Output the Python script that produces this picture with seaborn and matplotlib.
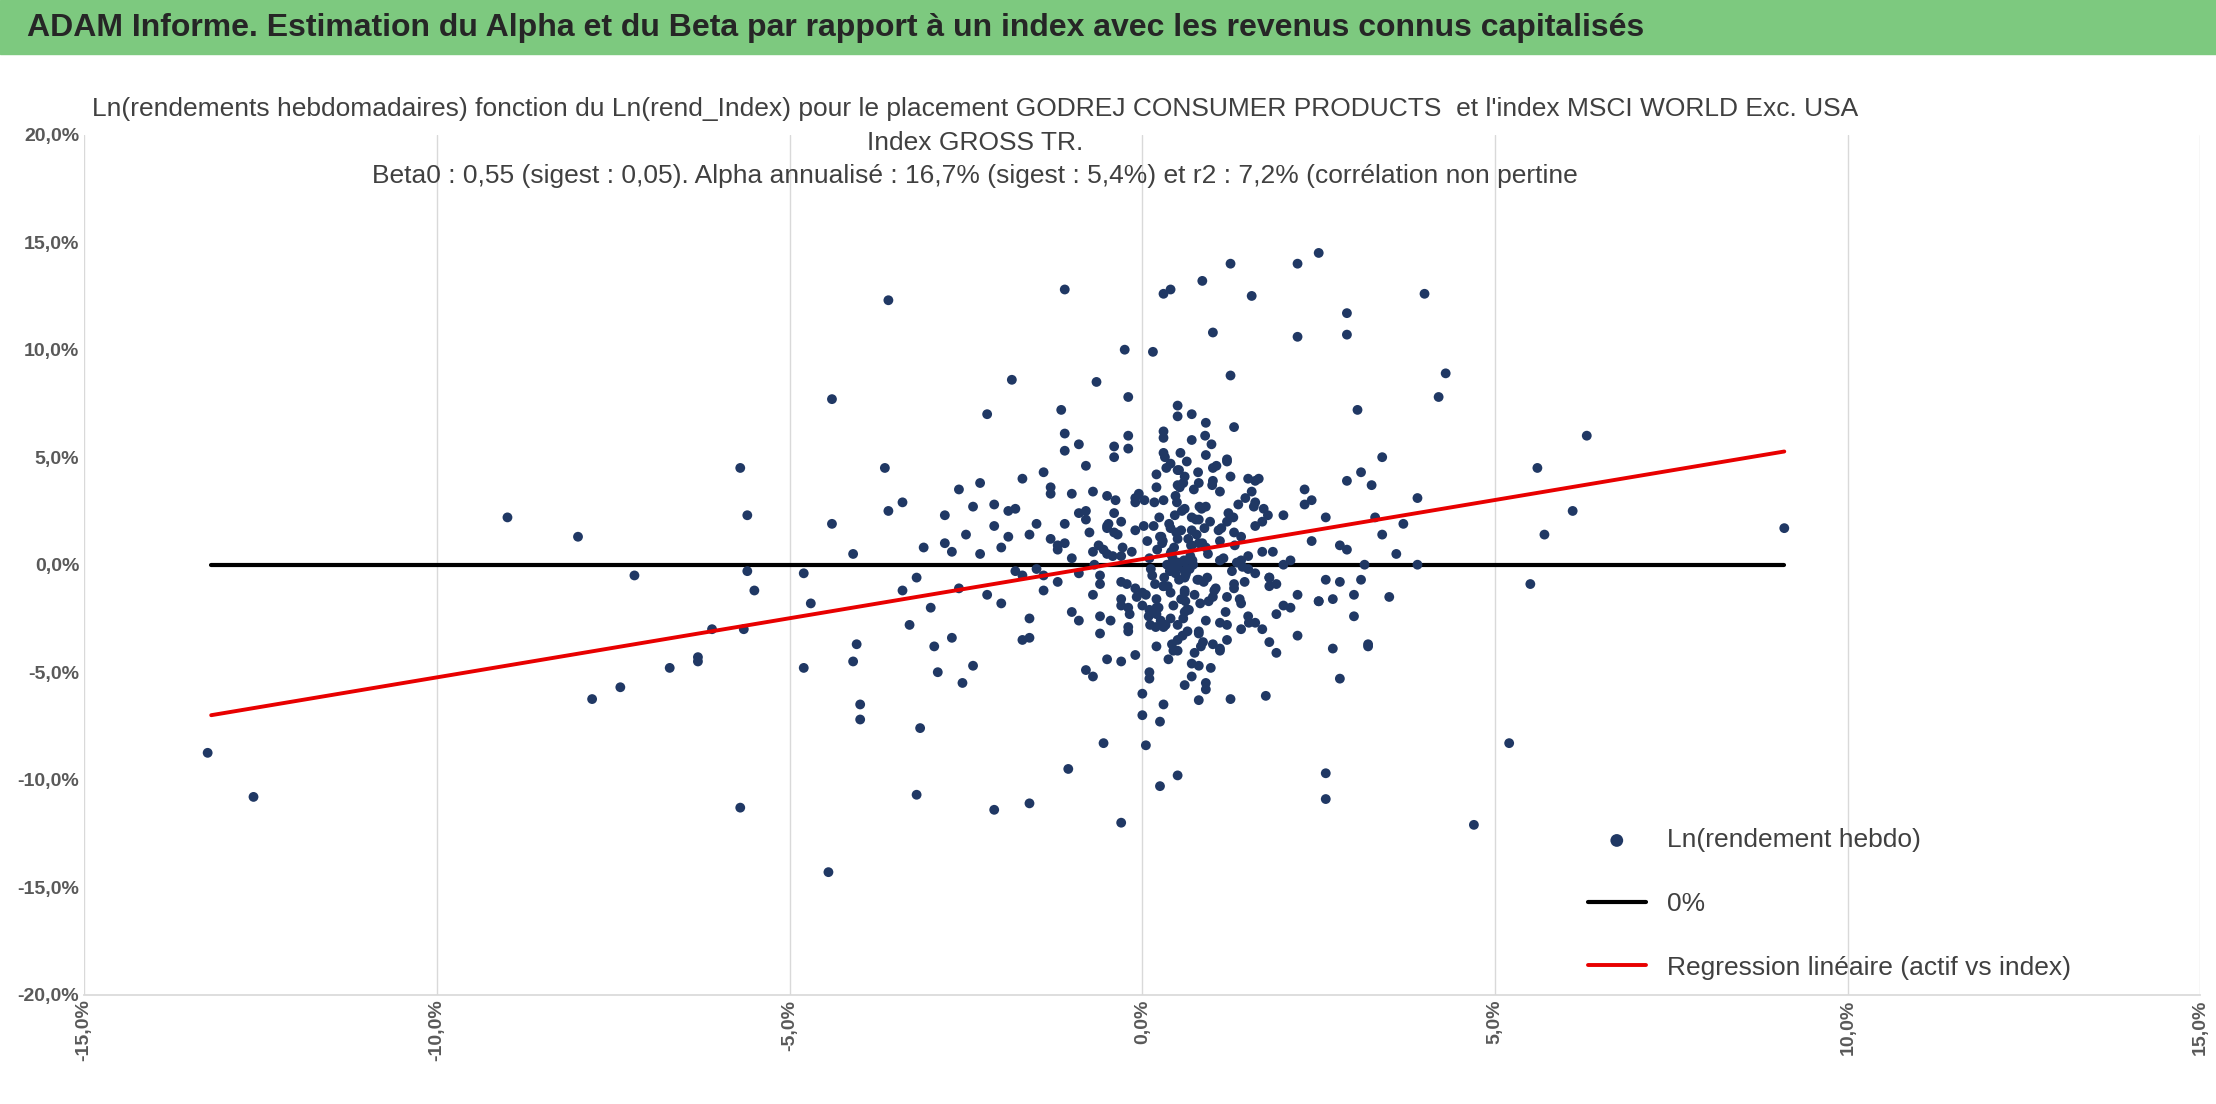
import matplotlib
matplotlib.use("Agg")
import matplotlib.pyplot as plt
import seaborn as sns
import numpy as np
import pandas as pd

# ---- data (percent) ----
outlier_x = [-13.25,-12.6,-9.0,-8.0,-7.8,-7.4,-7.2,-6.7,-6.3,-6.3,-6.1,-5.7,-5.6,-5.65,-5.7,-5.6,-5.5,
             -4.45,-4.4,-3.6,-1.1,0.3,0.4,0.85,1.25,2.2,2.5,4.0,1.55,2.9,2.9,2.2,4.3,4.2,5.6,6.3,6.1,5.7,
             5.5,5.2,4.7,9.1,3.9,3.9,2.6,2.6,0.25,0.5,-0.3,-1.05,-2.1,-1.6,-3.2,-4.1,-4.0,-4.0,-4.8,-4.7,
             -4.8,-4.1,-4.4,-3.65,-3.4,-2.2,-1.85,-1.15,-0.25,0.15,1.0,-0.65,1.25,3.05,3.4,3.25,3.0,3.1,
             3.15,3.2,2.8,1.75,1.25,0.25,0.8,-0.55,0.05,-3.15,-4.05,-2.95,-2.4,-2.55]
outlier_y = [-8.75,-10.8,2.2,1.3,-6.25,-5.7,-0.5,-4.8,-4.3,-4.5,-3.0,4.5,2.3,-3.0,-11.3,-0.3,-1.2,
             -14.3,7.7,12.3,12.8,12.6,12.8,13.2,14.0,14.0,14.5,12.6,12.5,11.7,10.7,10.6,8.9,7.8,4.5,6.0,2.5,1.4,
             -0.9,-8.3,-12.1,1.7,0.0,3.1,-10.9,-9.7,-10.3,-9.8,-12.0,-9.5,-11.4,-11.1,-10.7,-4.5,-6.5,-7.2,-4.8,-1.8,
             -0.4,0.5,1.9,4.5,2.9,7.0,8.6,7.2,10.0,9.9,10.8,8.5,8.8,7.2,5.0,3.7,-1.4,-0.7,
             0.0,-3.7,-5.3,-6.1,-6.25,-7.3,-6.3,-8.3,-8.4,-7.6,-3.7,-3.8,-4.7,-5.5]

core_x = [0.1,0.5,-0.3,0.8,1.2,-0.7,0.3,0.6,-1.1,1.5,-0.2,0.9,0.4,-0.5,1.8,-1.4,0.2,0.7,-0.9,1.1,
          0.0,0.6,-0.4,1.3,-1.7,2.1,0.5,-0.1,0.9,-0.6,1.6,-1.2,0.3,0.8,-2.0,2.4,0.4,-0.8,1.0,-0.3,
          1.9,-1.5,0.2,0.7,-2.3,2.6,0.1,-1.0,1.4,-0.2,0.6,-0.5,1.2,-1.8,2.0,0.3,-0.7,1.7,-1.3,0.9,
          0.5,-0.4,1.1,-2.5,2.8,0.0,-0.9,1.5,-1.6,0.8,0.4,-0.1,1.3,-2.1,2.2,0.6,-1.1,1.8,-0.6,1.0,
          0.2,-0.3,0.7,-1.4,2.5,0.9,-2.7,1.6,-0.8,0.3,0.5,-1.9,1.2,-0.2,2.3,-1.2,0.6,1.4,-0.5,0.1,
          0.8,-1.6,1.9,-0.9,0.4,2.7,-2.2,1.1,-0.4,0.7,0.2,-1.0,1.7,-1.7,0.5,2.0,-0.1,1.3,-2.4,0.9,
          0.3,-0.6,1.5,-1.3,2.4,0.0,1.0,-2.0,0.6,-0.3,1.8,-0.8,0.4,2.9,-1.5,1.2,-0.2,0.7,-2.6,1.6,
          0.1,-1.1,2.1,0.5,-0.7,1.4,-1.8,0.8,0.3,-0.4,2.6,-1.0,1.1,0.6,-2.3,1.9,-0.5,0.2,1.3,-1.4,
          0.9,-0.1,2.2,-1.9,0.5,1.6,-0.6,0.0,1.0,-1.2,2.8,-0.3,0.7,-2.8,1.5,0.4,-0.9,1.2,-1.6,2.3,
          0.6,-0.2,1.7,-1.3,0.8,0.2,-0.7,2.0,-2.1,1.1,0.3,-0.5,1.4,-1.1,0.9,2.5,-0.8,0.5,-1.7,1.8,
          -3.0,-2.8,-3.3,-2.6,-3.1,3.3,3.5,3.0,3.6,2.9,-2.9,-3.4,3.2,3.4,-2.7,-3.6,3.7,-3.2,2.7,3.1]
core_y = [0.3,1.2,-0.8,2.1,-1.5,0.6,3.0,-2.2,1.0,0.4,-3.1,2.7,-0.2,1.8,-1.0,-0.5,4.2,0.9,-2.6,3.4,
          -1.3,-0.6,2.4,1.5,-3.5,0.2,-4.0,1.6,5.1,-0.9,2.9,0.7,-2.9,3.8,-1.8,1.1,0.0,4.6,-3.7,2.0,
          -2.3,1.9,-1.6,5.8,0.5,-0.7,-5.0,3.3,1.3,-2.0,2.6,-4.4,4.9,-0.3,2.3,6.2,-1.4,-3.0,3.6,0.8,
          -0.1,5.5,-2.7,1.4,0.9,-1.9,-0.4,4.0,-2.5,-4.7,1.7,3.1,-1.1,2.8,-3.3,0.1,5.3,-0.6,-2.4,3.9,
          -3.8,0.4,2.2,-1.2,-1.7,6.6,0.6,1.8,-4.9,-1.0,4.4,2.5,-2.8,6.0,3.5,-0.8,-5.6,0.2,3.2,-2.1,
          1.0,-3.4,-0.9,2.4,4.7,-1.6,-1.4,-3.9,1.5,7.0,-2.3,0.3,2.0,-0.5,3.7,-1.9,-4.2,6.4,2.7,-2.6,
          5.9,-3.2,-0.2,1.2,3.0,-6.0,-1.5,0.8,4.1,-4.5,-3.6,2.1,-1.3,0.7,-0.2,4.8,-2.9,1.6,-1.1,-0.4,
          -5.3,1.9,-2.0,7.4,3.4,-3.0,2.6,-0.7,-6.5,5.0,2.2,-2.2,1.1,-0.3,3.8,-4.1,0.5,3.6,-0.9,4.3,
          -5.8,2.9,-1.4,1.3,6.9,-2.7,-0.5,-7.0,4.5,0.9,-0.8,-1.6,-4.6,2.3,-2.4,-2.5,5.6,-3.5,1.4,2.8,
          -1.2,7.8,0.6,3.3,-3.1,-2.0,-5.2,0.0,1.8,-4.0,5.2,1.7,-1.8,6.1,-5.5,-1.7,2.5,-2.8,4.0,-0.6,
          -2.0,1.0,-2.8,3.5,0.8,2.2,-1.5,-2.4,0.5,3.9,-5.0,-1.2,-3.8,1.4,-3.4,2.5,1.9,-0.6,-3.9,4.3]

dense_x = [0.45,0.62,0.38,0.71,0.55,0.29,0.84,0.18,0.93,0.47,0.66,0.35,0.77,0.52,0.24,1.02,0.41,0.58,0.12,0.88,
           0.33,0.69,0.49,0.05,1.15,0.61,0.27,0.79,0.44,0.96,0.57,0.21,1.08,0.36,0.73,0.51,0.09,0.85,0.63,0.31,
           1.22,0.42,0.68,0.16,0.94,0.54,0.39,0.81,0.26,1.31,0.48,0.74,0.03,0.59,1.04,0.34,0.87,0.46,0.19,0.65,
           -0.15,1.42,0.53,-0.08,0.76,1.18,0.28,0.98,-0.22,0.64,1.36,0.43,-0.35,0.82,1.25,0.14,0.56,1.51,-0.05,0.72,
           0.37,1.12,-0.28,0.6,1.46,0.23,0.89,-0.42,0.5,1.29,0.07,0.78,1.6,-0.18,0.67,0.32,1.38,-0.48,0.97,0.4,
           1.72,-0.1,0.58,1.05,-0.55,0.83,0.25,1.55,0.47,-0.3,1.2,0.7,-0.62,0.92,1.65,0.11,0.55,1.34,-0.38,0.8,
           0.3,1.78,-0.2,0.63,1.1,0.44,-0.75,0.99,1.45,0.17,0.74,1.85,-0.45,0.52,1.27,0.02,0.86,1.58,-0.68,0.61]
dense_y = [0.8,-0.4,1.9,0.2,-1.6,1.1,2.6,-0.9,0.5,3.2,-2.1,0.0,1.4,-0.7,2.2,-1.2,0.6,3.8,-0.2,1.7,
           -2.8,0.9,2.9,-1.4,0.3,-0.5,1.3,4.3,-1.9,2.0,-3.3,0.7,1.6,-1.0,3.5,0.1,-2.4,1.0,4.8,-0.6,
           2.4,-3.7,0.4,1.8,-1.7,5.2,-0.3,2.7,-2.6,0.9,1.5,-4.1,3.0,0.2,-1.1,4.5,-0.8,2.3,-2.9,1.2,
           0.6,-0.1,3.6,-1.5,2.1,-2.2,1.0,5.6,-0.9,-3.1,2.8,0.3,1.4,-1.8,4.1,-0.5,2.5,-2.7,3.3,0.0,
           -4.4,1.7,0.8,-1.3,3.1,-2.0,6.0,0.4,-3.5,2.2,1.1,-0.7,3.9,-2.3,-0.2,5.0,-1.6,1.9,-4.8,0.5,
           2.6,-1.1,-2.5,4.6,0.7,-3.8,1.3,3.4,-0.4,-1.9,2.0,-5.2,0.9,-0.6,4.0,-2.8,1.6,0.1,3.0,-3.2,
           -1.0,2.3,5.4,-2.1,0.2,-4.0,1.5,3.7,-0.8,2.9,-1.4,0.6,-2.6,4.4,-0.3,1.8,-3.6,2.7,0.0,-1.7]

beta0 = 0.55
alpha_w = 0.26  # intercept in %
x_line = [-13.2, 9.1]

pts = pd.DataFrame({"x": np.array(outlier_x + core_x + dense_x) / 100,
                    "y": np.array(outlier_y + core_y + dense_y) / 100})

sns.set_theme(style="white")
plt.rcParams['font.family'] = ['Liberation Sans Narrow', 'Liberation Sans', 'DejaVu Sans']

fig = plt.figure(figsize=(22.16, 11.04), dpi=100)
fig.patches.append(plt.Rectangle((0, 0.951), 1, 0.049, transform=fig.transFigure,
                                 color="#7DC97F", zorder=0))
fig.text(0.012, 0.975, "ADAM Informe. Estimation du Alpha et du Beta par rapport à un index avec les revenus connus capitalisés",
         fontsize=23, fontweight="bold", va="center", ha="left")

ax = fig.add_axes([0.038, 0.099, 0.955, 0.779])
xl = np.array(x_line) / 100
ax.plot(xl, [0, 0], color="black", lw=3, label="0%", zorder=2)
ax.plot(xl, beta0 * xl + alpha_w / 100, color="#E80000", lw=2.8,
        label="Regression linéaire (actif vs index)", zorder=3)
sns.scatterplot(data=pts, x="x", y="y", ax=ax, color="#203864", s=50, edgecolor="none",
                label="Ln(rendement hebdo)", zorder=2.5)

ax.set_xlim(-0.15, 0.15)
ax.set_ylim(-0.20, 0.20)
xt = np.arange(-0.15, 0.151, 0.05)
yt = np.arange(-0.20, 0.201, 0.05)
ax.set_xticks(xt)
ax.set_yticks(yt)
fmt = lambda v: f"{v*100:.1f}%".replace(".", ",").replace("-0,0", "0,0")
ax.set_xticklabels([fmt(v) for v in xt], rotation=90, fontsize=14, fontweight="bold", color="#595959")
ax.set_yticklabels([fmt(v) for v in yt], fontsize=14, fontweight="bold", color="#595959")
ax.grid(axis="x", color="#D9D9D9", lw=1)
ax.grid(axis="y", visible=False)
for s in ["top", "right", "left"]:
    ax.spines[s].set_visible(False)
ax.spines["bottom"].set_color("#D9D9D9")
ax.set_xlabel("")
ax.set_ylabel("")
ax.tick_params(length=0)

fig.text(0.44, 0.912, "Ln(rendements hebdomadaires) fonction du Ln(rend_Index) pour le placement GODREJ CONSUMER PRODUCTS  et l'index MSCI WORLD Exc. USA\nIndex GROSS TR.\nBeta0 : 0,55 (sigest : 0,05). Alpha annualisé : 16,7% (sigest : 5,4%) et r2 : 7,2% (corrélation non pertine",
         ha="center", va="top", fontsize=19, color="#404040", linespacing=1.5)

h, l = ax.get_legend_handles_labels()
order = [l.index("Ln(rendement hebdo)"), l.index("0%"), l.index("Regression linéaire (actif vs index)")]
leg = ax.legend([h[i] for i in order], [l[i] for i in order], loc="lower right",
                bbox_to_anchor=(0.95, -0.01), frameon=False, fontsize=19, labelspacing=1.5,
                handlelength=2.2, labelcolor="#404040", markerscale=1.3)
fig.savefig("out.png", dpi=100)
